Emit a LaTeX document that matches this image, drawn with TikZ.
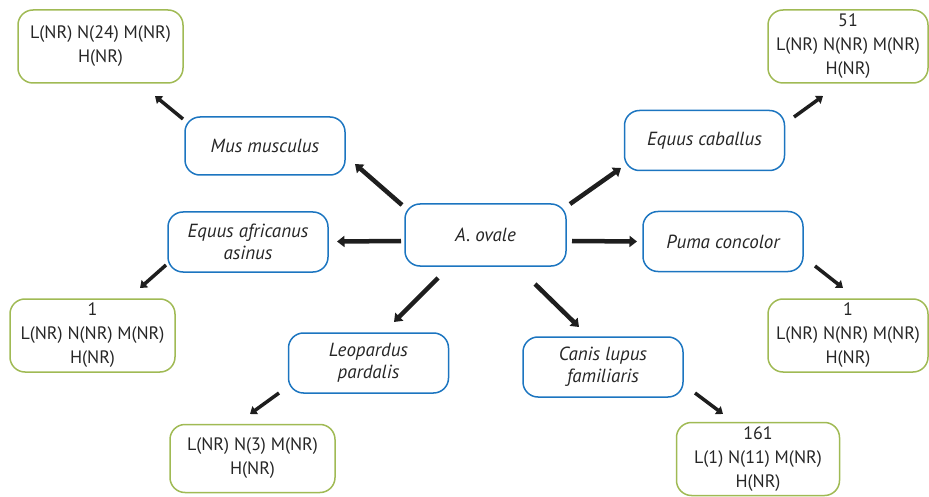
\documentclass[tikz,border=0pt]{standalone}
\usepackage{fontspec}
\setmainfont{PT Sans}
\usetikzlibrary{arrows.meta}
\definecolor{boxblue}{RGB}{28,117,192}
\definecolor{boxgreen}{RGB}{160,186,84}
\definecolor{arrowgray}{RGB}{30,30,30}
\tikzset{
  species/.style={draw=boxblue, line width=1.5pt, rounded corners=15pt,
    minimum width=160pt, minimum height=60pt, align=center,
    font=\fontsize{19}{22}\selectfont\itshape, text=black!85},
  record/.style={draw=boxgreen, line width=1.5pt, rounded corners=15pt,
    minimum width=165pt, minimum height=73pt, align=center,
    font=\fontsize{18}{24}\selectfont, text=black!85},
  mainarrow/.style={draw=arrowgray, line width=4.5pt,
    -{Triangle[width=11pt,length=7.5pt]}},
  subarrow/.style={draw=arrowgray, line width=3.5pt,
    -{Triangle[width=9.5pt,length=6.5pt]}},
}
\begin{document}
\begin{tikzpicture}[x=1pt,y=-1pt]
\useasboundingbox (0,0) rectangle (929,497);

% species boxes
\node[species, minimum width=161pt, minimum height=62pt] (ovale) at (485.5,235) {A. ovale};
\node[species, minimum height=58pt] (mus) at (265,146) {Mus musculus};
\node[species] (caballus) at (704.5,140.5) {Equus caballus};
\node[species] (asinus) at (248,242) {Equus africanus\\asinus};
\node[species] (puma) at (723,241.5) {Puma concolor};
\node[species] (pardalis) at (368.5,363) {Leopardus\\pardalis};
\node[species] (canis) at (603,367) {Canis lupus\\familiaris};

% record boxes
\node[record] (rmus) at (100.5,46.5) {L(NR) N(24) M(NR)\\H(NR)};
\node[record, minimum width=160pt] (rcaballus) at (848,46.5) {51\\L(NR) N(NR) M(NR)\\H(NR)};
\node[record] (rasinus) at (92.5,335.5) {1\\L(NR) N(NR) M(NR)\\H(NR)};
\node[record, minimum width=160pt] (rpuma) at (848,335.5) {1\\L(NR) N(NR) M(NR)\\H(NR)};
\node[record, minimum height=68pt] (rpardalis) at (252.5,458.5) {L(NR) N(3) M(NR)\\H(NR)};
\node[record, minimum width=163pt] (rcanis) at (758,459) {161\\L(1) N(11) M(NR)\\H(NR)};

% arrow end points
\coordinate (o-mus) at (402,205);   \coordinate (mus-in) at (355,164);
\coordinate (o-cab) at (570,204);   \coordinate (cab-in) at (621,168);
\coordinate (o-asi) at (401,241);   \coordinate (asi-in) at (337,241.5);
\coordinate (o-pum) at (572,241);   \coordinate (pum-in) at (637,241.5);
\coordinate (o-par) at (438,278);   \coordinate (par-in) at (394,322);
\coordinate (o-can) at (535,284);   \coordinate (can-in) at (579,327);
\coordinate (mus-out) at (183,119);  \coordinate (rmus-in) at (155,96);
\coordinate (cab-out) at (794,117);  \coordinate (rcab-in) at (823,96);
\coordinate (asi-out) at (166,265);  \coordinate (rasi-in) at (140,288);
\coordinate (pum-out) at (815,266);  \coordinate (rpum-in) at (843,288);
\coordinate (par-out) at (279,393);  \coordinate (rpar-in) at (250,414);
\coordinate (can-out) at (695,393);  \coordinate (rcan-in) at (723,414);

% arrows from the central box
\draw[mainarrow] (o-mus) -- (mus-in);
\draw[mainarrow] (o-cab) -- (cab-in);
\draw[mainarrow] (o-asi) -- (asi-in);
\draw[mainarrow] (o-pum) -- (pum-in);
\draw[mainarrow] (o-par) -- (par-in);
\draw[mainarrow] (o-can) -- (can-in);

% arrows to the record boxes
\draw[subarrow] (mus-out) -- (rmus-in);
\draw[subarrow] (cab-out) -- (rcab-in);
\draw[subarrow] (asi-out) -- (rasi-in);
\draw[subarrow] (pum-out) -- (rpum-in);
\draw[subarrow] (par-out) -- (rpar-in);
\draw[subarrow] (can-out) -- (rcan-in);
\end{tikzpicture}
\end{document}
